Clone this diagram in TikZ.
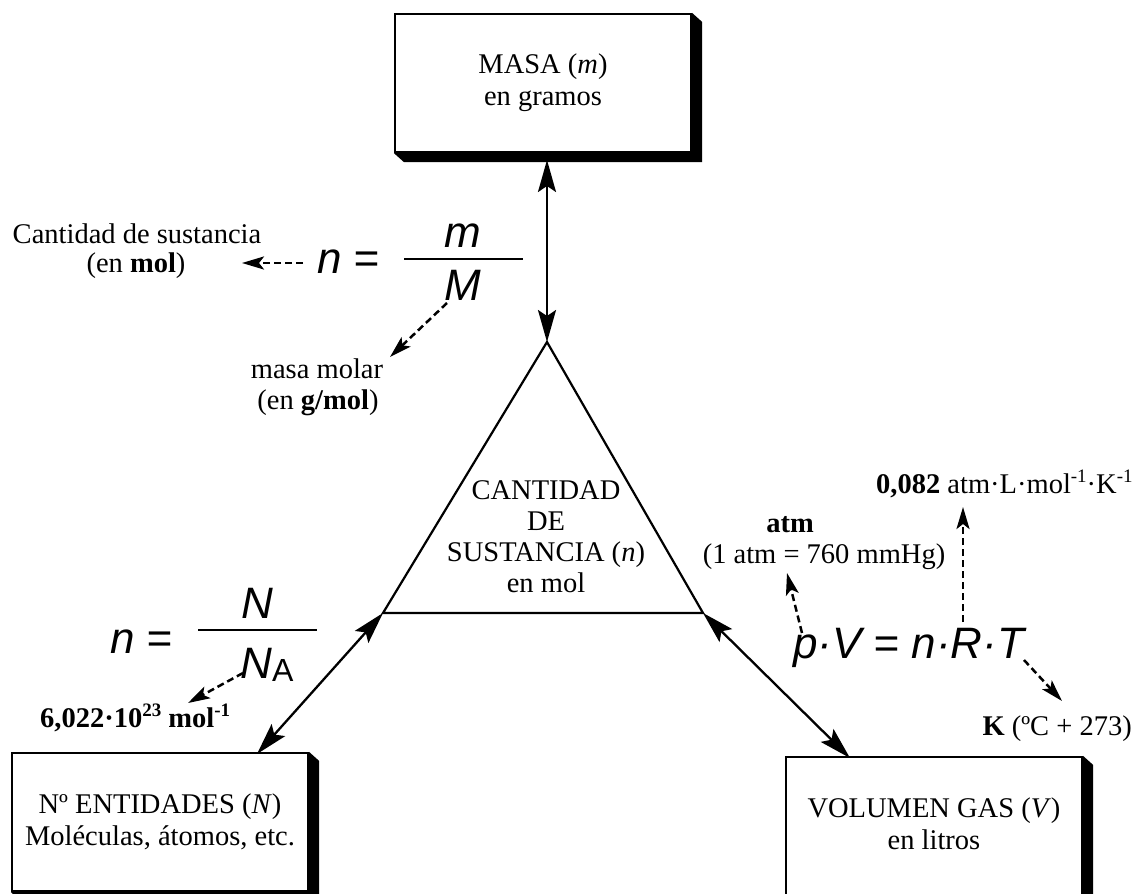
\documentclass[tikz,border=0pt]{standalone}
\usepackage{fontspec}
\setmainfont{Liberation Serif}
\newfontfamily\arfont{Liberation Sans}
\usetikzlibrary{arrows.meta,calc}
\newcommand{\mysup}[1]{\raisebox{10.5pt}{\fontsize{19}{19}\selectfont #1}}
\tikzset{
  lbl/.style={font=\fontsize{28.5}{33}\selectfont, inner sep=0pt},
  frm/.style={font=\arfont\itshape\fontsize{44}{48}\selectfont, inner sep=0pt},
  boxnode/.style={draw, line width=2.2pt, fill=white, minimum width=296pt, minimum height=138pt,
    inner sep=0pt, align=center, font=\fontsize{28.5}{32}\selectfont},
  biarrow/.style={line width=2.3pt, {Stealth[length=32pt,width=18pt,inset=6pt]}-{Stealth[length=32pt,width=18pt,inset=6pt]}},
  dasharrow/.style={line width=2.5pt, dash pattern=on 7pt off 4pt, -{Stealth[length=22pt,width=13pt,inset=5pt]}},
  edgeline/.style={line width=2.2pt, line join=miter},
}
\begin{document}
\begin{tikzpicture}[x=1pt,y=-1pt]
\useasboundingbox (0,0) rectangle (1136,894);
% boxes
\node[boxnode] (masa) at (543,83) {MASA (\textit{m})\\en gramos};
\node[boxnode] (ent) at (160,822) {\raisebox{4pt}{Nº ENTIDADES (\textit{N})}\\\raisebox{4pt}{Moléculas, átomos, etc.}};
\node[boxnode] (vol) at (934,826) {\raisebox{4pt}{VOLUMEN GAS (\textit{V})}\\\raisebox{4pt}{en litros}};
\foreach \b in {masa,ent,vol}{
  \fill (\b.north east) -- ($(\b.north east)+(10,9)$) -- ($(\b.south east)+(10,9)$)
    -- ($(\b.south west)+(10,9)$) -- (\b.south west) -- (\b.south east) -- cycle;
}
% triangle
\coordinate (apex) at (547,342);
\coordinate (bl) at (383,613);
\coordinate (br) at (703,613);
\draw[edgeline] (apex) -- (bl) -- (br) -- cycle;
\node[lbl, align=center, font=\fontsize{28.5}{31}\selectfont] (tri) at (546,537)
  {CANTIDAD\\DE\\SUSTANCIA (\textit{n})\\en mol};
% solid double arrows
\coordinate (masabot) at (547,160);
\coordinate (enttop) at (257,754);
\coordinate (voltop) at (850,758);
\draw[biarrow] (masabot) -- (apex);
\draw[biarrow] (bl) -- (enttop);
\draw[biarrow] (br) -- (voltop);
% formula n = m/M
\node[frm, anchor=base west] (n1) at (317,273) {n =};
\node[frm, anchor=base] (m1) at (463,247) {m};
\node[frm, anchor=base] (M1) at (463,300) {M};
\coordinate (bar1l) at (404,259);
\coordinate (bar1r) at (523,259);
\draw[line width=2.3pt] (bar1l) -- (bar1r);
% formula n = N/NA
\node[frm, anchor=base west] (n2) at (110,653) {n =};
\node[frm, anchor=base] (N2) at (257,618) {N};
\node[frm, anchor=base] (NA2) at (267,678) {N\raisebox{-3pt}{\upshape\fontsize{32}{32}\selectfont A}};
\coordinate (bar2l) at (198,630);
\coordinate (bar2r) at (317,630);
\draw[line width=2.3pt] (bar2l) -- (bar2r);
% formula pV = nRT
\node[frm, anchor=base west] (pv) at (793,658) {p·V = n·R·T};
% labels
\node[lbl, anchor=base] (cant1) at (137,243) {Cantidad de sustancia};
\node[lbl, anchor=base] (cant2) at (136,272) {(en \textbf{mol})};
\node[lbl, anchor=base] (mm1) at (317,378) {masa molar};
\node[lbl, anchor=base] (mm2) at (318,409) {(en \textbf{g/mol})};
\node[lbl, anchor=base west] (avo) at (40,727) {\textbf{6,022·10\mysup{\textbf{23}} mol\mysup{\textbf{-1}}}};
\node[lbl, anchor=base] (atm1) at (790,532) {\textbf{atm}};
\node[lbl, anchor=base] (atm2) at (824,563) {(1 atm = 760 mmHg)};
\node[lbl, anchor=base west] (rval) at (876,493) {\textbf{0,082} atm·L·mol\mysup{-1}·K\mysup{-1}};
\node[lbl, anchor=base east] (kel) at (1132,735) {\textbf{K} (ºC + 273)};
% dashed arrows
\coordinate (d1s) at (303,263); \coordinate (d1e) at (242,263);
\coordinate (d2s) at (447,303); \coordinate (d2e) at (390,357);
\coordinate (d3s) at (243,673); \coordinate (d3e) at (188,703);
\coordinate (d4s) at (802,633); \coordinate (d4e) at (787,573);
\coordinate (d5s) at (963,622); \coordinate (d5e) at (963,507);
\coordinate (d6s) at (1024,660); \coordinate (d6e) at (1062,701);
\draw[dasharrow] (d1s) -- (d1e);
\draw[dasharrow] (d2s) -- (d2e);
\draw[dasharrow] (d3s) -- (d3e);
\draw[dasharrow] (d4s) -- (d4e);
\draw[dasharrow] (d5s) -- (d5e);
\draw[dasharrow] (d6s) -- (d6e);
\end{tikzpicture}
\end{document}
